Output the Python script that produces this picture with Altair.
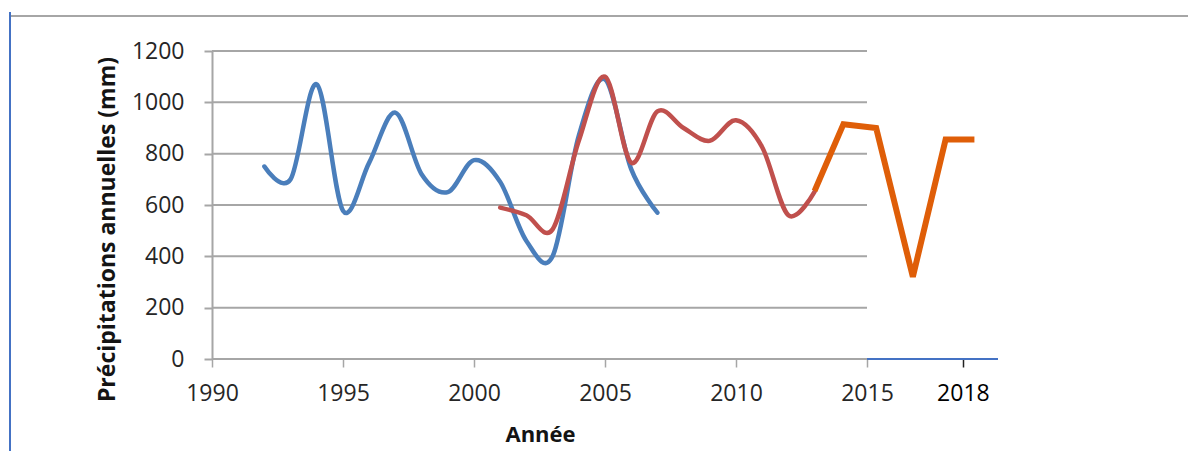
import altair as alt
import pandas as pd

# ---- data ----
blue_years = list(range(1992, 2008))
blue_vals = [750, 700, 1070, 578, 765, 960, 720, 650, 775, 690, 460, 400, 870, 1090, 740, 570]

red_years = list(range(2001, 2014))
red_vals = [590, 560, 505, 850, 1100, 765, 965, 900, 850, 930, 825, 560, 652]

orange_years = [2013, 2014.1, 2015.35, 2016.75, 2018, 2019.1]
orange_vals = [655, 915, 900, 320, 855, 855]

grid_vals = [0, 200, 400, 600, 800, 1000, 1200]
x_tick_vals = [1990, 1995, 2000, 2005, 2010, 2015, 2018.66]

FONT = "Open Sans"
TXT = "#262626"

blue_df = pd.DataFrame({"year": blue_years, "val": blue_vals})
red_df = pd.DataFrame({"year": red_years, "val": red_vals})
orange_df = pd.DataFrame({"year": orange_years, "val": orange_vals})
grid_df = pd.DataFrame({"val": grid_vals, "x0": [1990] * len(grid_vals), "x1": [2015] * len(grid_vals)})
ext_df = pd.DataFrame({"val": [0], "x0": [2015], "x1": [2020]})
dummy = pd.DataFrame({"a": [0]})

x_scale = alt.Scale(domain=[1990, 2020], nice=False, zero=False)
y_scale = alt.Scale(domain=[0, 1200], nice=False)

x_axis = alt.Axis(
    values=x_tick_vals,
    format="d",
    labelExpr="datum.value > 2016 ? '2018' : datum.label",
    domain=False,
    grid=False,
    tickSize=8,
    tickWidth=1.5,
    tickColor={"condition": {"test": "datum.value > 2016", "value": "#222222"}, "value": "#A6A6A6"},
    labelColor={"condition": {"test": "datum.value > 2016", "value": "#000000"}, "value": TXT},
    labelFont=FONT,
    labelFontSize=23,
    labelPadding=15,
    labelFlush=False,
    title="Année",
    titleFont=FONT,
    titleFontSize=22,
    titleFontWeight="bold",
    titleColor="#141414",
    titleX=328,
    titleY=75,
    titleAlign="center",
    titleBaseline="middle",
)

y_axis = alt.Axis(
    values=grid_vals,
    format="d",
    domain=True,
    domainColor="#A6A6A6",
    domainWidth=2,
    grid=False,
    tickSize=8,
    tickWidth=2,
    tickColor="#A6A6A6",
    labelFont=FONT,
    labelFontSize=23,
    labelColor=TXT,
    labelPadding=20,
    title="Précipitations annuelles (mm)",
    titleFont=FONT,
    titleFontSize=23,
    titleFontWeight="bold",
    titleColor="#141414",
    titleAngle=270,
    titleX=-105,
    titleY=178,
    titleAlign="center",
    titleBaseline="middle",
)

grid = alt.Chart(grid_df).mark_rule(color="#A6A6A6", strokeWidth=2).encode(
    x=alt.X("x0:Q", scale=x_scale, axis=x_axis),
    x2="x1:Q",
    y=alt.Y("val:Q", scale=y_scale, axis=y_axis),
)

ext_axis = alt.Chart(ext_df).mark_rule(color="#4472C4", strokeWidth=2).encode(
    x=alt.X("x0:Q", scale=x_scale, axis=x_axis),
    x2="x1:Q",
    y=alt.Y("val:Q", scale=y_scale, axis=y_axis),
)

blue = alt.Chart(blue_df).mark_line(
    color="#4A7EBB", strokeWidth=4.5, interpolate="cardinal", strokeCap="round", strokeJoin="round"
).encode(
    x=alt.X("year:Q", scale=x_scale, axis=x_axis),
    y=alt.Y("val:Q", scale=y_scale, axis=y_axis),
)

red = alt.Chart(red_df).mark_line(
    color="#C0504D", strokeWidth=4.5, interpolate="cardinal", strokeCap="round", strokeJoin="round"
).encode(
    x=alt.X("year:Q", scale=x_scale, axis=x_axis),
    y=alt.Y("val:Q", scale=y_scale, axis=y_axis),
)

orange = alt.Chart(orange_df).mark_line(
    color="#DF5E08", strokeWidth=6, interpolate="linear", strokeJoin="miter"
).encode(
    x=alt.X("year:Q", scale=x_scale, axis=x_axis),
    y=alt.Y("val:Q", scale=y_scale, axis=y_axis),
)

# decorative frame of the original picture
frame_top = alt.Chart(dummy).mark_rule(color="#A6A6A6", strokeWidth=2).encode(
    x=alt.value(-202), x2=alt.value(1000), y=alt.value(-35)
)
frame_left = alt.Chart(dummy).mark_rule(color="#4472C4", strokeWidth=2).encode(
    x=alt.value(-202), y=alt.value(-39), y2=alt.value(420)
)

chart = alt.layer(grid, ext_axis, blue, red, orange, frame_top, frame_left).properties(
    width=786,
    height=308,
    autosize=alt.AutoSizeParams(type="none"),
    padding={"left": 204, "top": 43, "right": 190, "bottom": 92},
    background="white",
).configure_view(stroke=None)

chart.save("out.html", embed_options={"renderer": "svg", "actions": False})
